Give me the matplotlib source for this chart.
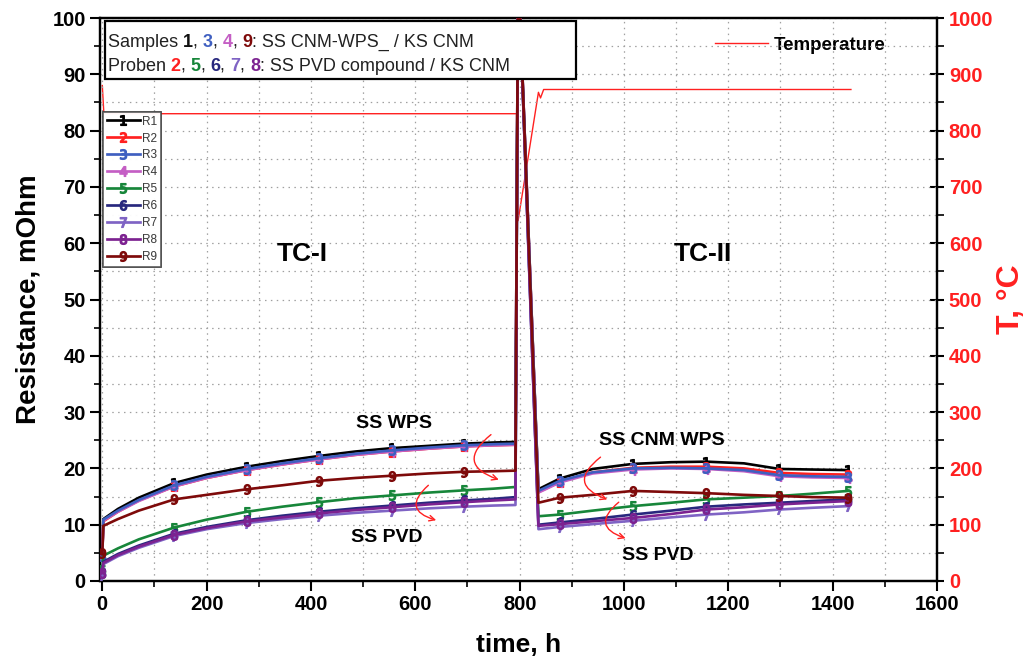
import matplotlib
matplotlib.use('Agg')
import matplotlib.pyplot as plt
from matplotlib.ticker import MultipleLocator
from matplotlib.patches import Rectangle
import matplotlib.font_manager as fm

# ---------------- data ----------------
time_h = [0, 2, 30, 70, 138, 200, 277, 345, 415, 485, 555, 625, 693, 750, 792,
          797, 836, 877, 940, 1017, 1090, 1158, 1230, 1298, 1360, 1430]
R1 = [5.0, 11.0, 12.8, 14.8, 17.4, 18.9, 20.3, 21.3, 22.2, 23.0, 23.6, 24.0, 24.4, 24.6, 24.7,
      110, 16.3, 18.2, 19.9, 20.8, 21.1, 21.2, 20.9, 19.9, 19.8, 19.7]
R2 = [4.8, 10.6, 12.3, 14.3, 16.8, 18.3, 19.7, 20.7, 21.6, 22.4, 23.0, 23.5, 23.9, 24.1, 24.2,
      110, 15.8, 17.6, 19.3, 20.1, 20.3, 20.3, 20.0, 19.2, 19.0, 18.9]
R3 = [4.5, 10.9, 12.5, 14.4, 17.0, 18.5, 19.9, 20.9, 21.8, 22.6, 23.2, 23.7, 24.1, 24.3, 24.4,
      110, 16.0, 17.8, 19.3, 20.0, 20.1, 20.0, 19.7, 18.8, 18.6, 18.5]
R4 = [4.2, 10.7, 12.3, 14.2, 16.8, 18.3, 19.7, 20.7, 21.6, 22.4, 23.0, 23.5, 23.9, 24.1, 24.2,
      110, 15.7, 17.5, 19.1, 19.8, 20.0, 19.9, 19.5, 18.6, 18.4, 18.3]
R5 = [2.0, 4.5, 5.8, 7.4, 9.5, 10.9, 12.3, 13.2, 14.0, 14.7, 15.2, 15.7, 16.1, 16.4, 16.7,
      110, 11.5, 11.8, 12.5, 13.3, 13.9, 14.5, 14.8, 15.1, 15.5, 16.0]
R6 = [1.5, 3.4, 4.8, 6.3, 8.4, 9.6, 10.8, 11.6, 12.3, 12.9, 13.4, 13.9, 14.3, 14.6, 14.9,
      110, 10.0, 10.4, 11.0, 11.8, 12.5, 13.2, 13.6, 13.9, 14.2, 14.5]
R7 = [1.0, 3.0, 4.4, 5.9, 8.0, 9.2, 10.3, 11.0, 11.6, 12.1, 12.5, 12.9, 13.2, 13.4, 13.5,
      110, 9.2, 9.6, 10.1, 10.7, 11.3, 11.8, 12.2, 12.7, 13.0, 13.3]
R8 = [1.5, 3.2, 4.6, 6.1, 8.2, 9.4, 10.6, 11.3, 12.0, 12.6, 13.1, 13.6, 14.0, 14.3, 14.5,
      110, 9.8, 10.1, 10.6, 11.2, 11.9, 12.7, 13.1, 13.6, 13.9, 14.2]
R9 = [5.0, 9.8, 11.0, 12.5, 14.5, 15.3, 16.3, 17.0, 17.8, 18.3, 18.7, 19.1, 19.4, 19.5, 19.6,
      110, 13.9, 14.8, 15.3, 16.0, 15.8, 15.6, 15.3, 15.1, 14.9, 14.8]
series_names = ['R1', 'R2', 'R3', 'R4', 'R5', 'R6', 'R7', 'R8', 'R9']
series_vals = [R1, R2, R3, R4, R5, R6, R7, R8, R9]
series_colors = ['#000000', '#ff2020', '#3f5fc0', '#c45ec4', '#17863a',
                 '#28287e', '#7f63c4', '#7c2290', '#7e0a0a']
marker_idx = [0, 4, 6, 8, 10, 12, 17, 19, 21, 23, 25]

temp_time = [0, 3, 794, 797, 836, 840, 846, 1435]
temp_C = [880, 830, 830, 640, 868, 858, 873, 873]

x_ticks = [0, 200, 400, 600, 800, 1000, 1200, 1400, 1600]
# --------------------------------------

names = {f.name for f in fm.fontManager.ttflist}
REG = 'Liberation Sans' if 'Liberation Sans' in names else 'DejaVu Sans'
COND = REG

fig = plt.figure(figsize=(10.26, 6.66), dpi=100)
ax = fig.add_axes([99.7 / 1026, 1 - 581 / 666, (937 - 99.7) / 1026, (581 - 18) / 666])
ax2 = ax.twinx()
ax.set_zorder(ax2.get_zorder() + 1)
ax.patch.set_visible(False)

zorders = [3, 3.1, 3.3, 3.2, 3.4, 3.5, 3.6, 3.7, 3.8]
handles = []
for i, (nm, vals, c) in enumerate(zip(series_names, series_vals, series_colors)):
    ln, = ax.plot(time_h, vals, color=c, lw=1.9, marker=f'${i+1}$', markersize=7,
                  markevery=marker_idx, label=nm, zorder=zorders[i], clip_on=True)
    handles.append(ln)

ax2.plot(temp_time, temp_C, color='#ff2020', lw=1.0, label='Temperature')

ax.set_xlim(-5, 1600)
ax.set_ylim(0, 100)
ax2.set_ylim(0, 1000)

ax.set_xticks(x_ticks)
ax.xaxis.set_minor_locator(MultipleLocator(100))
ax.yaxis.set_major_locator(MultipleLocator(10))
ax.yaxis.set_minor_locator(MultipleLocator(5))
ax2.yaxis.set_major_locator(MultipleLocator(100))
ax2.yaxis.set_minor_locator(MultipleLocator(50))

ax.grid(True, which='both', color='#a0a0a0', ls=(0, (1.2, 3.5)), lw=0.9)

for a in (ax, ax2):
    for s in a.spines.values():
        s.set_linewidth(1.6)
ax.tick_params(axis='both', which='major', direction='out', length=7, width=1.5, pad=3)
ax.tick_params(axis='both', which='minor', direction='out', length=4, width=1.2)
ax2.tick_params(axis='y', which='major', direction='inout', length=10, width=1.5,
                labelcolor='#ff2020')
ax2.tick_params(axis='y', which='minor', direction='out', length=5, width=1.2)

for lab in ax.get_xticklabels() + ax.get_yticklabels():
    lab.set_fontfamily(COND); lab.set_fontweight('bold'); lab.set_fontsize(14.5)
for lab in ax2.get_yticklabels():
    lab.set_fontfamily(COND); lab.set_fontweight('bold'); lab.set_fontsize(14.5)
    lab.set_color('#ff2020')

ax.set_xlabel('time, h', fontfamily=COND, fontweight='bold', fontsize=19, labelpad=14)
ax.set_ylabel('Resistance, mOhm', fontfamily=COND, fontweight='bold', fontsize=20, labelpad=8)
ax2.set_ylabel('T, °C', fontfamily=COND, fontweight='bold', fontsize=23, color='#ff2020',
               rotation=90, va='center')
ax2.yaxis.set_label_coords(1.088, 0.5)

# series legend
leg = ax.legend(handles=handles, loc='upper left', bbox_to_anchor=(0.004, 0.833),
                prop=dict(family=REG, size=8.5), handlelength=2.8, labelspacing=0.42,
                borderpad=0.3, handletextpad=0.2, frameon=True, fancybox=False,
                borderaxespad=0)
leg.get_frame().set_edgecolor('#404040')
leg.get_frame().set_linewidth(1.2)
for t in leg.get_texts():
    t.set_color('#404040')

# temperature legend
leg2 = ax2.legend(loc='center left', bbox_to_anchor=(0.715, 0.952), frameon=False,
                  prop=dict(family=COND, weight='bold', size=13.5), handlelength=2.8,
                  handletextpad=0.3)
ax.add_artist(leg)

# multicoloured sample legend box
rect = Rectangle(((105 - 99.7) / 837.3, (581 - 79) / 563), (576 - 105) / 837.3, (79 - 21) / 563,
                 transform=ax.transAxes, facecolor='white', edgecolor='black', lw=1.6,
                 zorder=9)
ax.add_patch(rect)
lines_spec = [
    [('Samples ', '#222222', 'normal'), ('1', '#111111', 'bold'), (', ', '#222222', 'normal'),
     ('3', '#3f5fc0', 'bold'), (', ', '#222222', 'normal'), ('4', '#c45ec4', 'bold'),
     (', ', '#222222', 'normal'), ('9', '#7e0a0a', 'bold'),
     (': SS CNM-WPS_ / KS CNM', '#222222', 'normal')],
    [('Proben ', '#222222', 'normal'), ('2', '#ff2020', 'bold'), (', ', '#222222', 'normal'),
     ('5', '#17863a', 'bold'), (', ', '#222222', 'normal'), ('6', '#28287e', 'bold'),
     (', ', '#222222', 'normal'), ('7', '#7f63c4', 'bold'), (', ', '#222222', 'normal'),
     ('8', '#7c2290', 'bold'), (': SS PVD compound / KS CNM', '#222222', 'normal')],
]
y0s = [0.9485, 0.906]
fig.canvas.draw()
renderer = fig.canvas.get_renderer()
inv = ax.transAxes.inverted()
for spec, yy in zip(lines_spec, y0s):
    x = 0.0095
    for txt, col, w in spec:
        t = ax.text(x, yy, txt, transform=ax.transAxes, color=col, fontweight=w,
                    fontfamily=REG, fontsize=13, va='baseline', ha='left', zorder=10)
        bb = t.get_window_extent(renderer=renderer)
        x = inv.transform((bb.x1, bb.y0))[0]

# annotations
tf = dict(fontfamily=COND, fontweight='bold', ha='center', va='center', zorder=11)
ax.text(384, 58, 'TC-I', fontsize=19, **tf)
ax.text(1151, 58, 'TC-II', fontsize=19, **tf)
ax.text(560, 28, 'SS WPS', fontsize=14, **tf)
ax.text(546, 7.7, 'SS PVD', fontsize=14, **tf)
ax.text(1072, 25, 'SS CNM WPS', fontsize=14, **tf)
ax.text(1064, 4.6, 'SS PVD', fontsize=14, **tf)

arrow_specs = [((745, 26.0), (760, 18.0)), ((625, 17.0), (640, 10.8)),
               ((955, 22.0), (968, 14.5)), ((990, 14.0), (1003, 7.6))]
for (x1, y1), (x2, y2) in arrow_specs:
    ax.annotate('', xy=(x2, y2), xytext=(x1, y1),
                arrowprops=dict(arrowstyle='->', color='#ff2020', lw=1.0,
                                connectionstyle='arc3,rad=0.9', shrinkA=0, shrinkB=0),
                zorder=11)

fig.savefig('out.png', dpi=100)
